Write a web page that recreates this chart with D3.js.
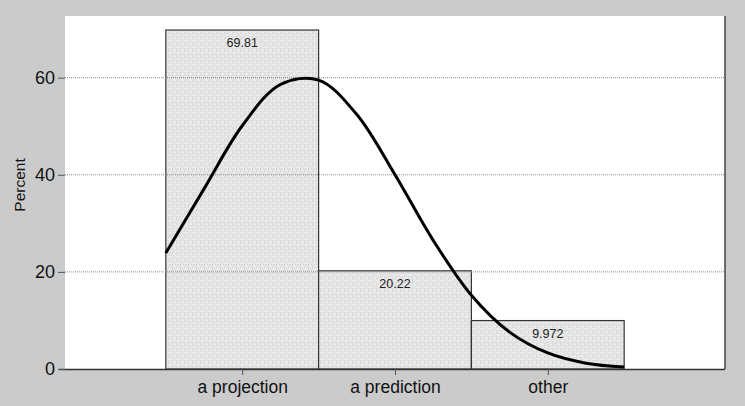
<!DOCTYPE html>
<html>
<head>
<meta charset="utf-8">
<script src="https://cdn.jsdelivr.net/npm/d3@7"></script>
<style>
    body { margin: 0; background: #cbcbcb; }
    svg { display: block; font-family: "Liberation Sans", Arial, sans-serif; }
</style>
</head>
<body>
<svg id="chart" width="745" height="406"></svg>
<script>
// Bar data (percent per category)
const categories = ["a projection", "a prediction", "other"];
const percents = [69.81, 20.22, 9.972];
const barLabels = ["69.81", "20.22", "9.972"];

// Fitted normal curve (x in category units, y in percent)
const curveX = [0.5, 0.75, 1.0, 1.25, 1.5, 1.75, 2.0, 2.25, 2.5, 2.75, 3.0, 3.25, 3.5];
const curveY = [23.9, 37.1, 50.1, 58.6, 59.5, 52.4, 40.0, 26.5, 15.2, 7.6, 3.3, 1.2, 0.4];

const yTicks = [0, 20, 40, 60];

const width = 745;
const height = 406;
const margin = { top: 16, right: 20, bottom: 37, left: 65 };
const innerWidth = width - margin.left - margin.right;
const innerHeight = height - margin.top - margin.bottom;

const svg = d3.select("#chart");

// Stipple texture for the bars
const defs = svg.append("defs");
const pat = defs.append("pattern")
    .attr("id", "stipple")
    .attr("patternUnits", "userSpaceOnUse")
    .attr("width", 8)
    .attr("height", 6);
pat.append("rect").attr("width", 8).attr("height", 6).attr("fill", "#e2e2e2");
pat.append("path")
    .attr("d", "M0,1 q2,-1 3,1 M4,4 q2,-1 3,1 M6,0.5 l1,1 M1,4.5 l1,-1")
    .attr("fill", "none")
    .attr("stroke", "#f7f7f7")
    .attr("stroke-width", 0.9);
pat.append("path")
    .attr("d", "M3,2.5 l1,0 M7,5 l0.8,0 M0.5,3 l0.6,0")
    .attr("stroke", "#c4c4c4")
    .attr("stroke-width", 0.8);

const xScale = d3.scaleLinear()
    .domain([-0.16, 4.16])
    .range([0, innerWidth]);

const yScale = d3.scaleLinear()
    .domain([0, 72.7])
    .range([innerHeight, 0]);

const innerChart = svg.append("g")
    .attr("transform", `translate(${margin.left},${margin.top})`);

// Plot background
innerChart.append("rect")
    .attr("width", innerWidth)
    .attr("height", innerHeight)
    .attr("fill", "#ffffff");

// Bars
innerChart.selectAll(".bar")
    .data(percents)
    .join("rect")
    .attr("class", "bar")
    .attr("x", (d, i) => xScale(i + 0.5))
    .attr("width", (d, i) => xScale(i + 1.5) - xScale(i + 0.5))
    .attr("y", d => yScale(d))
    .attr("height", d => innerHeight - yScale(d))
    .attr("fill", "url(#stipple)")
    .attr("stroke", "#333")
    .attr("stroke-width", 1.2);

// Dotted gridlines (visible over the bars)
innerChart.selectAll(".grid")
    .data(yTicks.filter(d => d > 0))
    .join("line")
    .attr("class", "grid")
    .attr("x1", 0)
    .attr("x2", innerWidth)
    .attr("y1", d => yScale(d))
    .attr("y2", d => yScale(d))
    .attr("stroke", "#8a8a8a")
    .attr("stroke-width", 1)
    .attr("stroke-dasharray", "1,1");

// Bar value labels
innerChart.selectAll(".bar-label")
    .data(percents)
    .join("text")
    .attr("class", "bar-label")
    .attr("x", (d, i) => xScale(i + 1))
    .attr("y", d => yScale(d) + 17)
    .attr("text-anchor", "middle")
    .attr("font-size", 12.5)
    .attr("fill", "#222")
    .text((d, i) => barLabels[i]);

// Normal curve
const line = d3.line()
    .x(d => xScale(d[0]))
    .y(d => yScale(d[1]))
    .curve(d3.curveCatmullRom.alpha(0.5));

innerChart.append("path")
    .datum(curveX.map((x, i) => [x, curveY[i]]))
    .attr("d", line)
    .attr("fill", "none")
    .attr("stroke", "#000")
    .attr("stroke-width", 3);

// Right border
innerChart.append("line")
    .attr("x1", innerWidth)
    .attr("x2", innerWidth)
    .attr("y1", 0)
    .attr("y2", innerHeight)
    .attr("stroke", "#444")
    .attr("stroke-width", 1.5);

// Bottom axis
const bottomAxis = d3.axisBottom(xScale)
    .tickValues([1, 2, 3])
    .tickFormat(d => categories[d - 1])
    .tickSize(6)
    .tickPadding(6)
    .tickSizeOuter(0);
const bottomG = innerChart.append("g")
    .attr("transform", `translate(0, ${innerHeight})`)
    .call(bottomAxis);
bottomG.select(".domain")
    .attr("d", `M-6,0.5H${innerWidth}`)
    .attr("stroke", "#333")
    .attr("stroke-width", 1.5);
bottomG.selectAll(".tick line").attr("stroke", "#555");
bottomG.selectAll(".tick text")
    .attr("font-size", 17.5)
    .attr("font-family", "Liberation Sans, Arial, sans-serif")
    .attr("fill", "#111");

// Left axis (ticks only)
const leftAxis = d3.axisLeft(yScale)
    .tickValues(yTicks)
    .tickSize(7)
    .tickPadding(3);
const leftG = innerChart.append("g").call(leftAxis);
leftG.select(".domain").remove();
leftG.selectAll(".tick line").attr("stroke", "#555");
leftG.selectAll(".tick text")
    .attr("font-size", 18)
    .attr("font-family", "Liberation Sans, Arial, sans-serif")
    .attr("fill", "#111");

// Axis title
svg.append("text")
    .text("Percent")
    .attr("transform", "translate(25, 185) rotate(-90)")
    .attr("text-anchor", "middle")
    .attr("font-size", 15.5)
    .attr("fill", "#111");
</script>
</body>
</html>
